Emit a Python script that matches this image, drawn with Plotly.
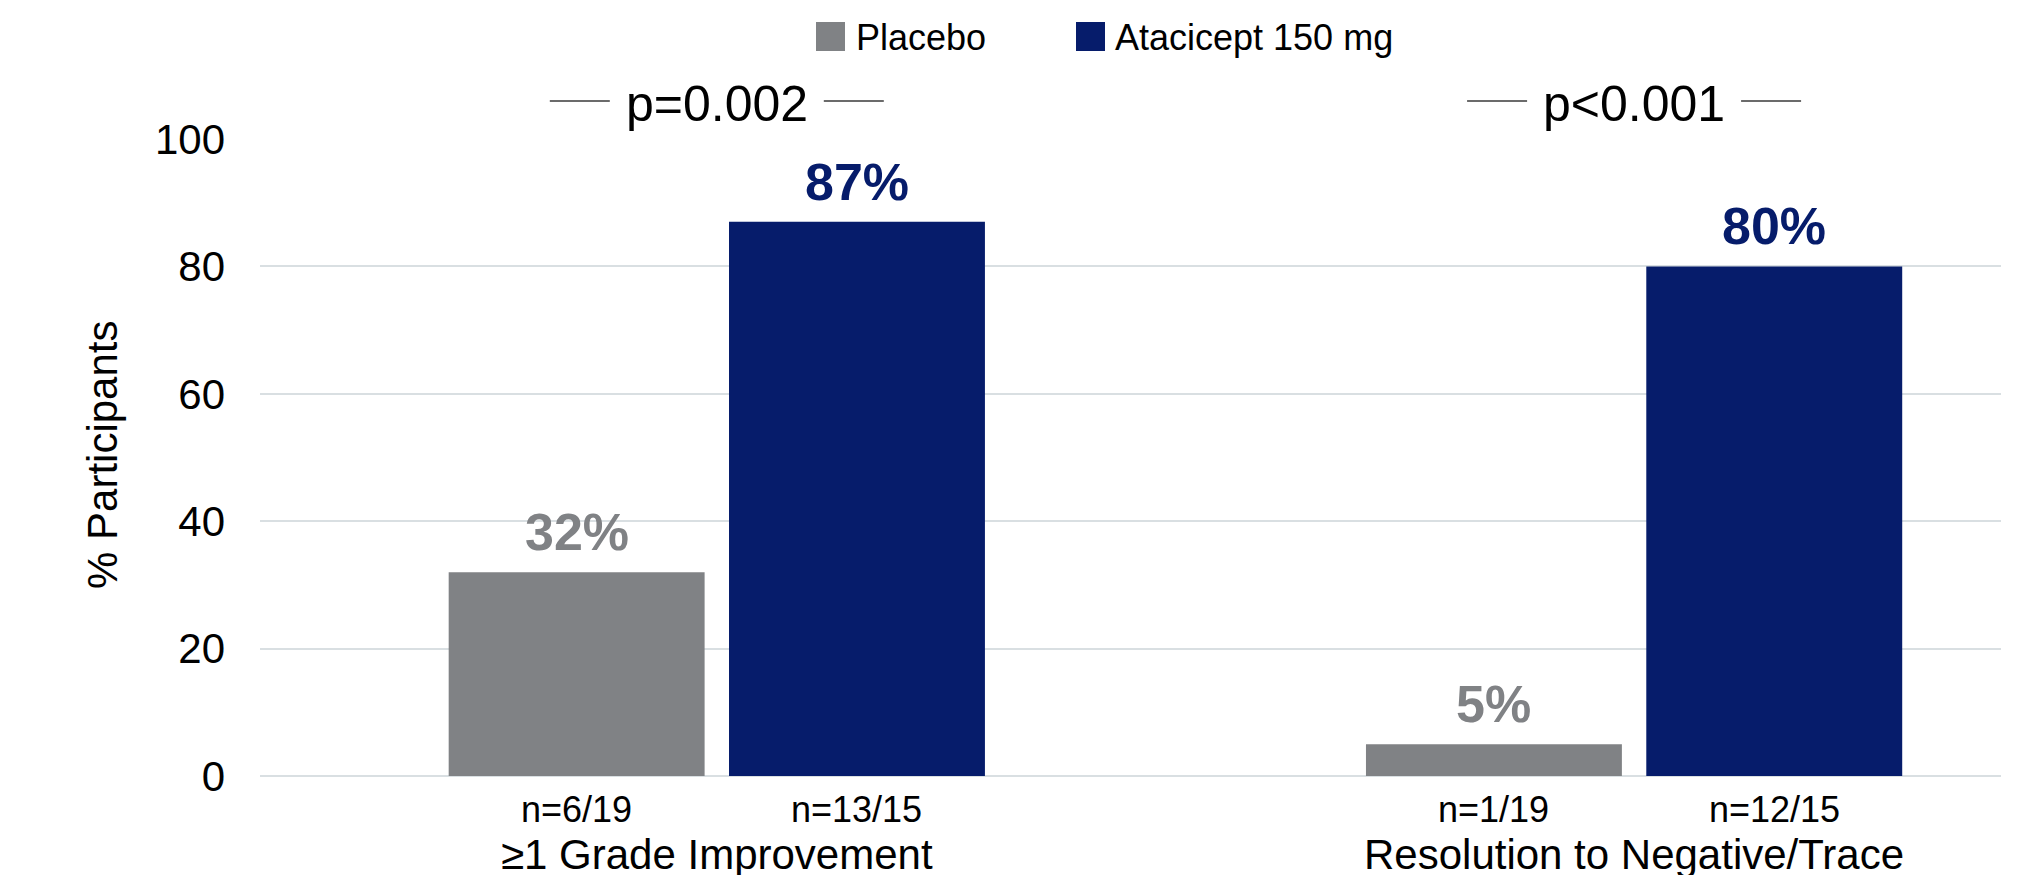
import plotly.graph_objects as go

# ---- data -------------------------------------------------------------
categories = ["≥1 Grade Improvement", "Resolution to Negative/Trace"]
series_names = ["Placebo", "Atacicept 150 mg"]
placebo_pct = [32, 5]
atacicept_pct = [87, 80]
placebo_n = ["n=6/19", "n=1/19"]
atacicept_n = ["n=13/15", "n=12/15"]
p_values = ["p=0.002", "p<0.001"]
y_ticks = [0, 20, 40, 60, 80, 100]

# ---- styling ----------------------------------------------------------
FONT = "Arial, 'Liberation Sans', sans-serif"
GRAY = "#808285"
NAVY = "#061c6b"
GRID = "#d9dfe2"

W, H = 2037, 875
M_L, M_R, M_T, M_B = 260, 36, 139, 99
PLOT_W = W - M_L - M_R
PLOT_H = H - M_T - M_B

X_RANGE = [-0.498, 1.4]
BAR_W = 0.279
OFFSET = 0.1528


def paper_x(px):
    return (px - M_L) / PLOT_W


def paper_y(py):
    return (H - M_B - py) / PLOT_H


def data_to_paper_x(x):
    return (x - X_RANGE[0]) / (X_RANGE[1] - X_RANGE[0])


units_per_px = (X_RANGE[1] - X_RANGE[0]) / PLOT_W

group_x = list(range(len(categories)))
series = [
    (series_names[0], placebo_pct, placebo_n, GRAY, -OFFSET),
    (series_names[1], atacicept_pct, atacicept_n, NAVY, OFFSET),
]

fig = go.Figure()
annotations = []
shapes = []

for name, vals, ns, color, off in series:
    xs = [g + off for g in group_x]
    fig.add_trace(go.Bar(
        x=xs, y=vals, width=BAR_W, name=name,
        marker=dict(color=color, line=dict(width=0)),
        showlegend=False, hoverinfo="skip",
    ))
    for x, v, n in zip(xs, vals, ns):
        # value label above the bar
        annotations.append(dict(
            x=x, y=v, xref="x", yref="y", text=f"<b>{v}%</b>",
            font=dict(family=FONT, size=52, color=color),
            showarrow=False, yanchor="middle", yshift=40,
        ))
        # responder count under the bar
        annotations.append(dict(
            x=x, y=0, xref="x", yref="y", text=n,
            font=dict(family=FONT, size=36, color="black"),
            showarrow=False, yanchor="middle", yshift=-33,
        ))

# category names and p-values per group
p_y = paper_y(104)
line_y = paper_y(101)
for g, cat, p in zip(group_x, categories, p_values):
    annotations.append(dict(
        x=g, y=0, xref="x", yref="y", text=cat,
        font=dict(family=FONT, size=42, color="black"),
        showarrow=False, yanchor="middle", yshift=-78,
    ))
    annotations.append(dict(
        x=data_to_paper_x(g), y=p_y, xref="paper", yref="paper", text=p,
        font=dict(family=FONT, size=50, color="black"),
        showarrow=False, yanchor="middle", xanchor="center",
    ))
    for sign in (-1, 1):
        inner = g + sign * 107 * units_per_px
        outer = g + sign * 167 * units_per_px
        shapes.append(dict(
            type="line", xref="paper", yref="paper",
            x0=data_to_paper_x(inner), x1=data_to_paper_x(outer),
            y0=line_y, y1=line_y,
            line=dict(color="#3a3a3a", width=1.5),
        ))

# legend drawn as swatches with labels, centered above the plot
legend_items = [
    (series_names[0], GRAY, 816, 854),
    (series_names[1], NAVY, 1076, 1113),
]
for name, color, sw_x, tx_x in legend_items:
    shapes.append(dict(
        type="rect", xref="paper", yref="paper",
        x0=paper_x(sw_x), x1=paper_x(sw_x + 29),
        y0=paper_y(51), y1=paper_y(22),
        fillcolor=color, line=dict(width=0),
    ))
    annotations.append(dict(
        x=paper_x(tx_x), y=paper_y(37), xref="paper", yref="paper",
        text=name, font=dict(family=FONT, size=36, color="black"),
        showarrow=False, xanchor="left", yanchor="middle",
    ))

# y-axis title
annotations.append(dict(
    x=paper_x(103), y=0.504, xref="paper", yref="paper",
    text="% Participants", textangle=-90,
    font=dict(family=FONT, size=42, color="black"),
    showarrow=False, xanchor="center", yanchor="middle",
))

fig.update_layout(
    width=W, height=H,
    margin=dict(l=M_L, r=M_R, t=M_T, b=M_B, pad=0),
    paper_bgcolor="white", plot_bgcolor="white",
    barmode="overlay",
    showlegend=False,
    font=dict(family=FONT, color="black"),
    annotations=annotations,
    shapes=shapes,
    xaxis=dict(
        range=X_RANGE, showticklabels=False, showgrid=False,
        zeroline=False, showline=False, ticks="", fixedrange=True,
    ),
    yaxis=dict(
        range=[0, 100], tickvals=y_ticks, ticks="",
        showgrid=True, gridcolor=GRID, gridwidth=1.5,
        zeroline=True, zerolinecolor=GRID, zerolinewidth=1.5,
        showline=False, ticklabelstandoff=34,
        tickfont=dict(family=FONT, size=42, color="black"),
        fixedrange=True,
    ),
)

fig.write_html("out.html")
